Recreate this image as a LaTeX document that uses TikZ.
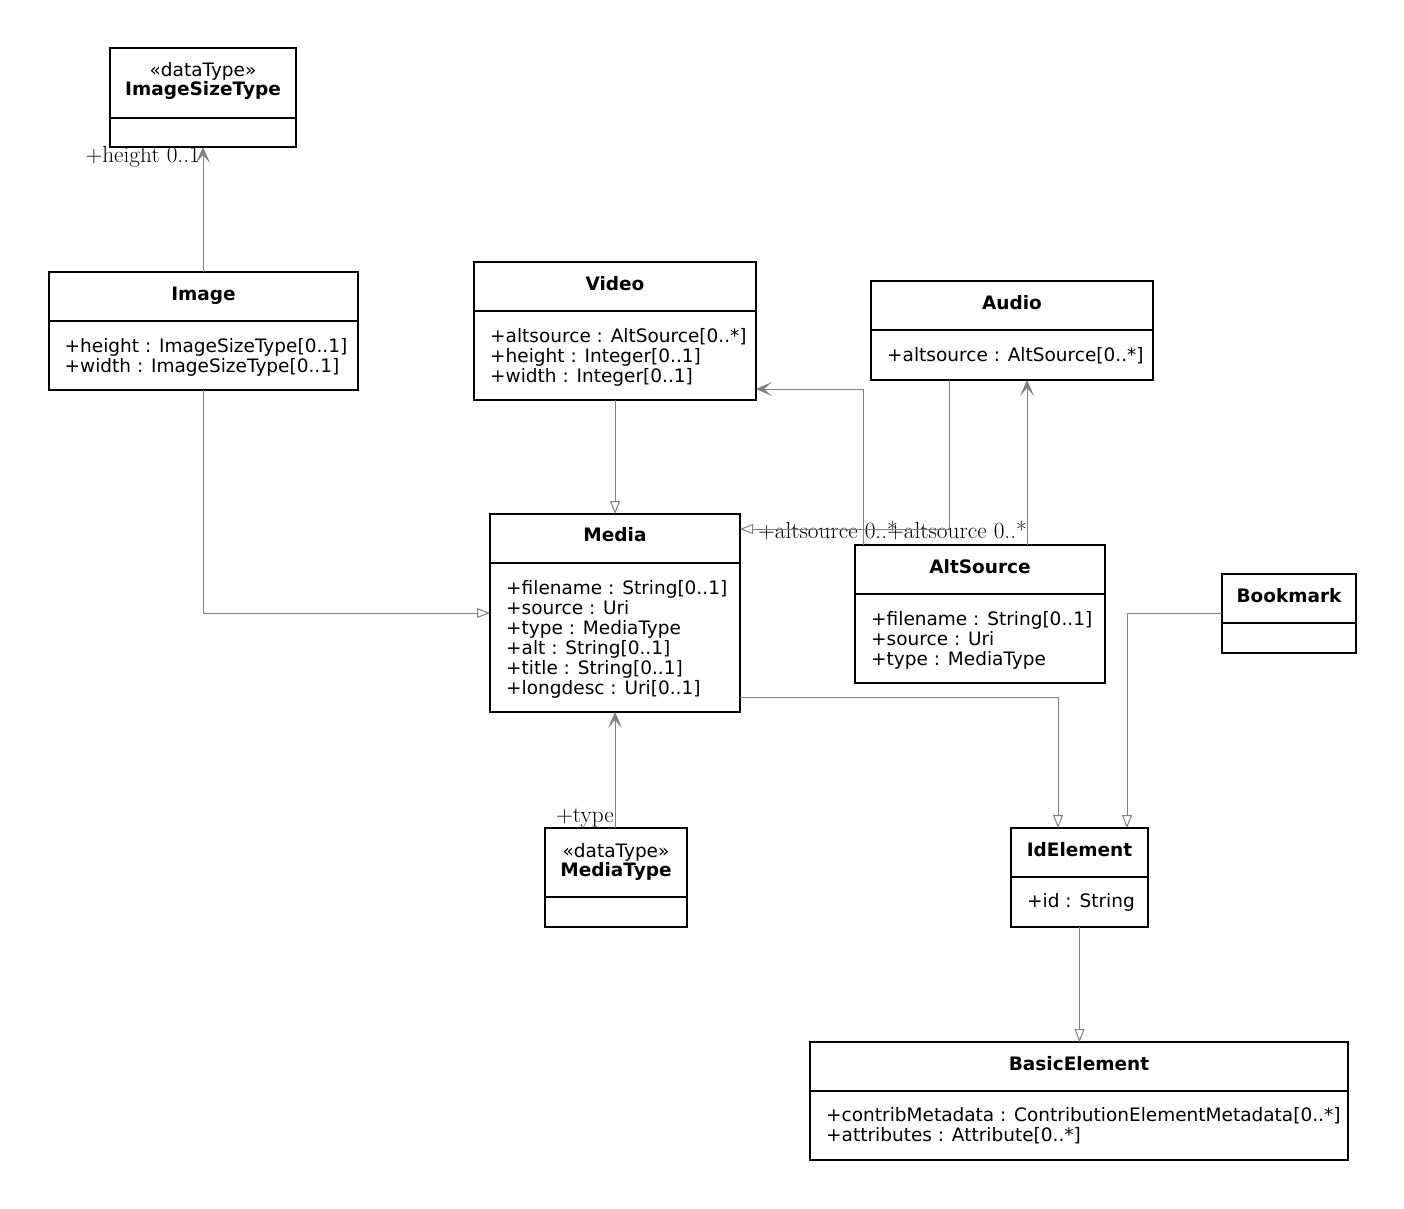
\documentclass[tikz,border=0pt]{standalone}
\usepackage{fontspec}
\usetikzlibrary{arrows.meta}
\newfontfamily\dejavu{DejaVu Sans}
\newcommand{\umlfont}{\dejavu\fontsize{18.5}{20}\selectfont}
\newcommand{\rolefont}{\fontsize{23.3}{26}\selectfont}

% box with its divider line
\newcommand{\umlclass}[6]{%
  \node[classbox, minimum width={(#4-#2)*1pt}, minimum height={(#5-#3)*1pt}] (#1) at (#2,#3) {};
  \draw[classline] (#2,#6) -- (#4,#6);
}

\tikzset{
  classbox/.style={draw=black, line width=1.3pt, anchor=north west, inner sep=0pt, outer sep=0pt},
  classline/.style={draw=black, line width=1.3pt},
  classname/.style={anchor=base, font=\umlfont\bfseries, inner sep=0pt},
  stereo/.style={anchor=base, font=\umlfont, inner sep=0pt},
  % anchored at the baseline of the last line
  attrs/.style={anchor=base west, align=left, font=\umlfont, inner sep=0pt},
  role/.style={anchor=base east, font=\rolefont, inner sep=0pt},
  assoc/.style={draw=gray, line width=1pt, -{Stealth[length=16pt, width=14pt, inset=8pt]}},
  gen/.style={draw=gray, line width=1pt, -{Triangle[open, length=13pt, width=10pt]}},
}

\begin{document}
\begin{tikzpicture}[x=1pt, y=-1pt]
  \useasboundingbox (0,0) rectangle (1404,1208);

  % classes
  \umlclass{imagesize}{110}{48}{296}{147}{118}
  \node[stereo] (imagesize-st) at (203,76) {«dataType»};
  \node[classname] (imagesize-name) at (203,95) {ImageSizeType};

  \umlclass{image}{49}{272}{358}{390}{321}
  \node[classname] (image-name) at (203.5,300) {Image};
  \node[attrs] (image-attrs) at (64.5,372.5) {+height : ImageSizeType[0..1]\\+width : ImageSizeType[0..1]};

  \umlclass{video}{474}{262}{756}{400}{311}
  \node[classname] (video-name) at (615,290) {Video};
  \node[attrs] (video-attrs) at (490,382) {+altsource : AltSource[0..*]\\+height : Integer[0..1]\\+width : Integer[0..1]};

  \umlclass{audio}{871}{281}{1153}{380}{330}
  \node[classname] (audio-name) at (1012,309) {Audio};
  \node[attrs] (audio-attrs) at (887,361) {+altsource : AltSource[0..*]};

  \umlclass{media}{490}{514}{740}{712}{563}
  \node[classname] (media-name) at (615,541) {Media};
  \node[attrs] (media-attrs) at (506,694) {+filename : String[0..1]\\+source : Uri\\+type : MediaType\\+alt : String[0..1]\\+title : String[0..1]\\+longdesc : Uri[0..1]};

  \umlclass{altsource}{855}{545}{1105}{683}{594}
  \node[classname] (altsource-name) at (980,573) {AltSource};
  \node[attrs] (altsource-attrs) at (871,665) {+filename : String[0..1]\\+source : Uri\\+type : MediaType};

  \umlclass{bookmark}{1222}{574}{1356}{653}{623}
  \node[classname] (bookmark-name) at (1289,602) {Bookmark};

  \umlclass{mediatype}{545}{828}{687}{927}{897}
  \node[stereo] (mediatype-st) at (616,857) {«dataType»};
  \node[classname] (mediatype-name) at (616,876) {MediaType};

  \umlclass{idelement}{1011}{828}{1148}{927}{877}
  \node[classname] (idelement-name) at (1079.5,856) {IdElement};
  \node[attrs] (idelement-attrs) at (1027,907) {+id : String};

  \umlclass{basicelement}{810}{1042}{1348}{1160}{1091}
  \node[classname] (basicelement-name) at (1079,1070) {BasicElement};
  \node[attrs] (basicelement-attrs) at (826,1141) {+contribMetadata : ContributionElementMetadata[0..*]\\+attributes : Attribute[0..*]};

  % associations
  \draw[assoc] (imagesize.south |- image.north) -- (imagesize.south);
  \node[role] (height-role) at (200,162) {+height 0..1};
  \draw[assoc] (media.south |- mediatype.north) -- (media.south);
  \node[role] (type-role) at (614,822) {+type};
  \draw[assoc] ([xshift=8pt]altsource.north west) |- ([yshift=11pt]video.south east);
  \node[role] (video-role) at (898,538) {+altsource 0..*};
  \draw[assoc] ([xshift=47pt]altsource.north) -- ([xshift=15pt]audio.south);
  \node[role] (audio-role) at (1027,538) {+altsource 0..*};

  % generalizations
  \draw[gen] (image.south) |- (media.west);
  \draw[gen] (video.south) -- (media.north);
  \draw[gen] ([xshift=-63pt]audio.south) |- ([yshift=84pt]media.east);
  \draw[gen] ([yshift=-84pt]media.east) -| ([xshift=-21.5pt]idelement.north);
  \draw[gen] (bookmark.west) -| ([xshift=47.5pt]idelement.north);
  \draw[gen] (idelement.south) -- (idelement.south |- basicelement.north);
\end{tikzpicture}
\end{document}
